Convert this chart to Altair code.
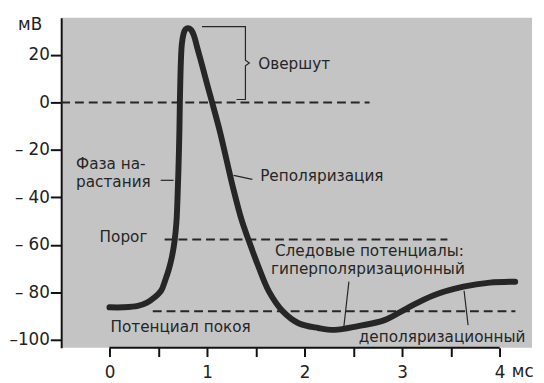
import altair as alt
import pandas as pd

# ---- data ----
curve_t = [0.00, 0.14, 0.29, 0.39, 0.46, 0.53, 0.57, 0.61, 0.64, 0.667, 0.687, 0.697, 0.707,
           0.717, 0.722, 0.732, 0.742, 0.758, 0.778, 0.808, 0.838, 0.869, 0.899, 0.949, 1.00,
           1.05, 1.131, 1.202, 1.273, 1.354, 1.424, 1.525, 1.636, 1.778, 1.939, 2.141, 2.31,
           2.55, 2.82, 3.05, 3.32, 3.63, 3.90, 4.16]
curve_v = [-86.3, -86.3, -85.7, -84.2, -82.2, -79.3, -75.1, -70.1, -65.1, -58.5, -50.2, -41.1, -28.6,
           -12.0, 0.4, 17.0, 24.5, 28.6, 30.7, 31.3, 30.5, 27.8, 23.2, 15.8, 7.9,
           0.4, -12.0, -24.5, -36.9, -49.4, -57.7, -68.9, -79.7, -88.0, -93.0, -95.0, -95.8,
           -94.2, -91.7, -86.7, -81.3, -77.6, -75.9, -75.5]

# dashed reference levels: zero, threshold, resting potential
level_v = [0.0, -57.7, -88.0]
level_t0 = [-0.495, 0.566, 0.444]
level_t1 = [2.667, 3.465, 4.162]

# overshoot brace
brace_t = [0.949, 1.394, 1.394, 1.434, 1.394, 1.394, 1.303]
brace_v = [31.95, 31.95, 17.8, 16.6, 15.4, 1.24, 1.24]

# leader lines
lead_t0 = [0.525, 1.273, 2.455, 3.636]
lead_t1 = [0.657, 1.465, 2.404, 3.677]
lead_v0 = [-32.8, -30.7, -75.5, -79.3]
lead_v1 = [-32.8, -32.4, -94.2, -93.8]

# annotation texts
label_text = ["Овершут", "Фаза на-", "растания", "Реполяризация", "Порог",
              "Следовые потенциалы:", "гиперполяризационный", "Потенциал покоя", "деполяризационный"]
label_t = [1.525, -0.343, -0.343, 1.545, -0.101, 1.697, 1.657, 0.01, 2.556]
label_v = [16.2, -25.8, -33.4, -31.1, -56.8, -62.5, -70.3, -94.6, -98.8]

x_tick_values = [0, 0.5, 1, 1.5, 2, 2.5, 3, 3.5, 4]
x_tick_labels = ["0", "", "1", "", "2", "", "3", "", "4"]
y_tick_values = [-100, -90, -80, -70, -60, -50, -40, -30, -20, -10, 0, 10, 20, 30]
y_tick_labels = ["–100", "", "– 80", "", "– 60", "", "– 40", "", "– 20", "", "0", "", "20", ""]

X_DOMAIN = [-0.495, 4.333]
Y_DOMAIN = [-103.3, 35.7]
W, H = 478, 335
FONT = "DejaVu Sans"
INK = "#262626"

def js_list(vals):
    return "[" + ",".join(repr(v) if isinstance(v, str) else str(v) for v in vals) + "]"

x_expr = f"{js_list(x_tick_labels)}[indexof({js_list(x_tick_values)}, datum.value)]"
y_expr = f"{js_list(y_tick_labels)}[indexof({js_list(y_tick_values)}, datum.value)]"

xs = alt.Scale(domain=X_DOMAIN, nice=False, zero=False)
ys = alt.Scale(domain=Y_DOMAIN, nice=False, zero=False)

curve_df = pd.DataFrame({"t": curve_t, "v": curve_v, "o": range(len(curve_t))})
level_df = pd.DataFrame({"t0": level_t0, "t1": level_t1, "v": level_v})
brace_df = pd.DataFrame({"t": brace_t, "v": brace_v, "o": range(len(brace_t))})
lead_df = pd.DataFrame({"t0": lead_t0, "t1": lead_t1, "v0": lead_v0, "v1": lead_v1})
text_df = pd.DataFrame({"t": label_t, "v": label_v, "txt": label_text})
xaxis_df = pd.DataFrame({"t0": [x_tick_values[0]], "t1": [x_tick_values[-1]]})

curve = alt.Chart(curve_df).mark_line(color=INK, strokeWidth=6, interpolate="catmull-rom",
                                      strokeCap="round").encode(
    x=alt.X("t:Q", scale=xs, axis=alt.Axis(
        values=x_tick_values, labelExpr=x_expr, domain=False, tickSize=9, tickWidth=2,
        tickColor="#111", labelPadding=8, labelFontSize=17, labelFont=FONT, labelColor="#222",
        grid=False, title="мс", titleFont=FONT, titleFontSize=17, titleFontWeight="normal",
        titleColor="#222", titleX=468, titleY=24, titleBaseline="middle", titleAlign="center")),
    y=alt.Y("v:Q", scale=ys, axis=alt.Axis(
        values=y_tick_values, labelExpr=y_expr, domain=True, domainWidth=2, domainColor="#111",
        tickSize=11, tickWidth=2, tickColor="#111", labelPadding=1, labelFontSize=17,
        labelFont=FONT, labelColor="#222", grid=False, title="мВ", titleFont=FONT,
        titleFontSize=17, titleFontWeight="normal", titleColor="#222", titleAngle=0,
        titleX=-32, titleY=7, titleBaseline="middle", titleAlign="center")),
    order="o:Q",
)

levels = alt.Chart(level_df).mark_rule(color=INK, strokeWidth=2, strokeDash=[9, 5]).encode(
    x=alt.X("t0:Q", scale=xs), x2="t1:Q", y=alt.Y("v:Q", scale=ys))

brace = alt.Chart(brace_df).mark_line(color=INK, strokeWidth=1.2).encode(
    x=alt.X("t:Q", scale=xs), y=alt.Y("v:Q", scale=ys), order="o:Q")

leads = alt.Chart(lead_df).mark_rule(color=INK, strokeWidth=1.2).encode(
    x=alt.X("t0:Q", scale=xs), x2="t1:Q", y=alt.Y("v0:Q", scale=ys), y2="v1:Q")

texts = alt.Chart(text_df).mark_text(align="left", baseline="middle", font=FONT, fontSize=15.5,
                                     color=INK).encode(
    x=alt.X("t:Q", scale=xs), y=alt.Y("v:Q", scale=ys), text="txt:N")

xaxis_line = alt.Chart(xaxis_df).mark_rule(color="#111", strokeWidth=2).encode(
    x=alt.X("t0:Q", scale=xs), x2="t1:Q", y=alt.value(H))

chart = alt.layer(levels, brace, leads, curve, texts, xaxis_line).properties(
    width=W, height=H,
    autosize=alt.AutoSizeParams(type="none"),
    padding={"left": 54, "top": 7, "right": 4, "bottom": 31},
).configure_view(fill="#c4c4c4", stroke=None)

chart.save("out.html", embed_options={"renderer": "svg", "actions": False})
